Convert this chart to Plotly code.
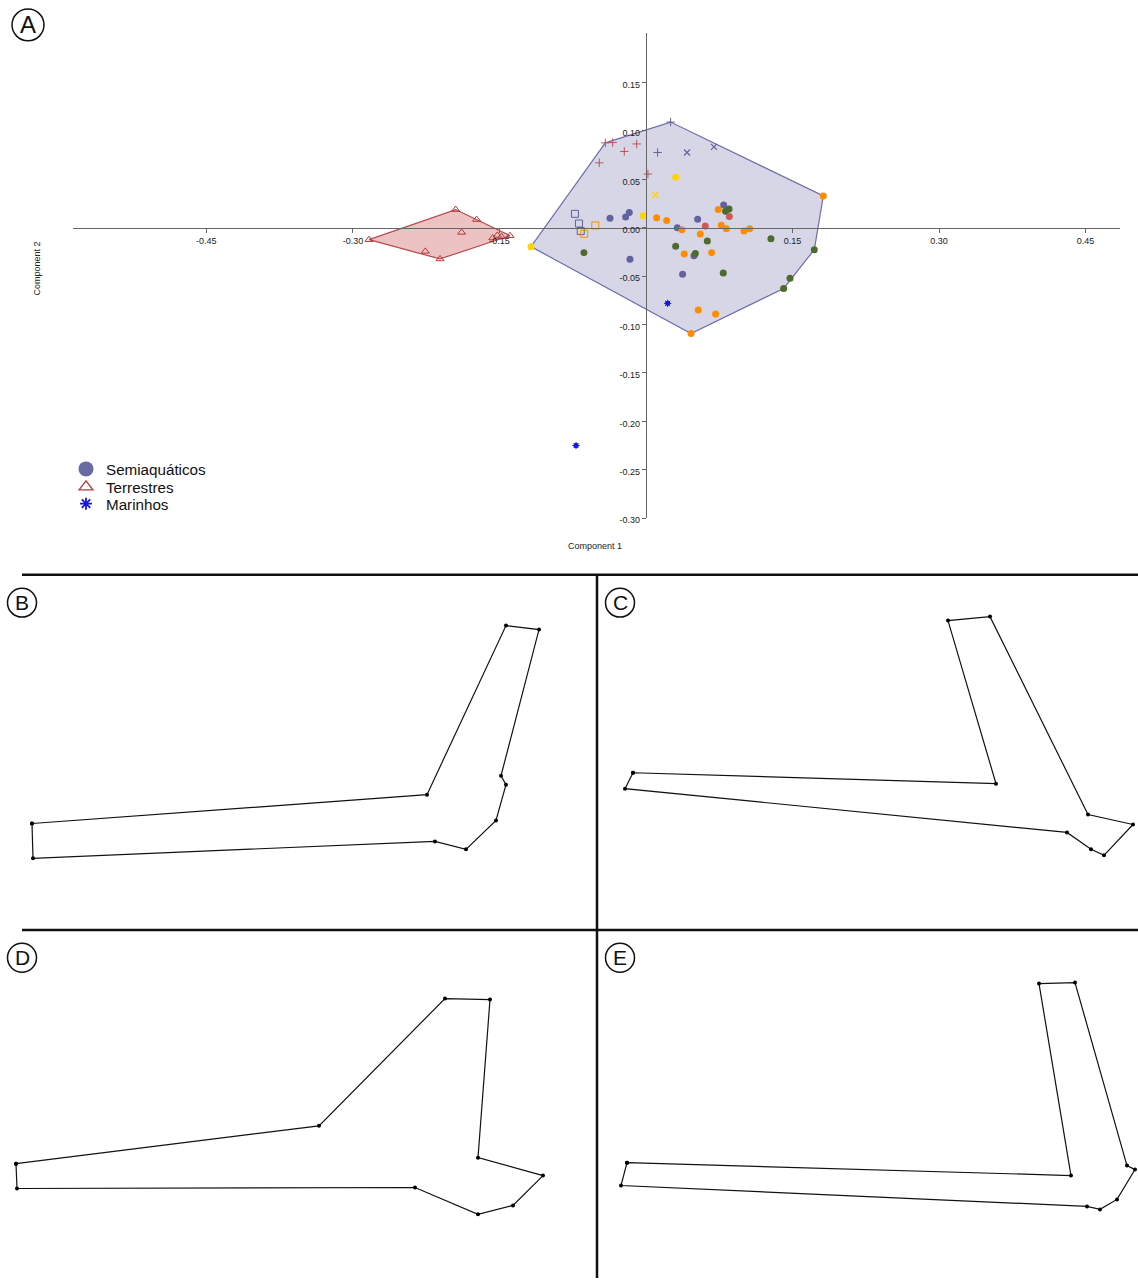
import plotly.graph_objects as go

W, H = 1138, 1285

# ---------------- Panel A: PCA scores (Component 1 vs Component 2) ----------------
semi_purple_x = [-0.0368, -0.0208, -0.0171, 0.0321, 0.0529, 0.0795, 0.0491, -0.0164, 0.0375]
semi_purple_y = [0.0099, 0.0110, 0.0157, 0.0000, 0.0089, 0.0236, -0.0288, -0.0326, -0.0480]

semi_orange_x = [0.0109, 0.0212, 0.0368, 0.0556, 0.0740, 0.0771, 0.0822, 0.1003, 0.1061,
                 0.0392, 0.0672, 0.1815, 0.0535, 0.0713, 0.0461]
semi_orange_y = [0.0103, 0.0075, -0.0021, -0.0065, 0.0188, 0.0027, -0.0010, -0.0034, -0.0010,
                 -0.0270, -0.0257, 0.0329, -0.0850, -0.0891, -0.1093]

semi_green_x = [0.0815, 0.0850, 0.0628, 0.1279, 0.0304, 0.0505, -0.0635, 0.0791, 0.1723, 0.1474, 0.1409]
semi_green_y = [0.0171, 0.0195, -0.0137, -0.0113, -0.0192, -0.0267, -0.0257, -0.0466, -0.0226, -0.0521, -0.0627]

semi_red_x = [0.0607, 0.0853]
semi_red_y = [0.0017, 0.0116]

semi_yellow_x = [0.0304, -0.0027, -0.1177]
semi_yellow_y = [0.0521, 0.0123, -0.0195]

semi_yellow_cross_x = [0.0095]
semi_yellow_cross_y = [0.0339]

semi_red_plus_x = [-0.0416, -0.0341, -0.0095, -0.0222, -0.0478, 0.0020]
semi_red_plus_y = [0.0877, 0.0880, 0.0866, 0.0788, 0.0671, 0.0555]

semi_purple_plus_x = [0.0119, 0.0252]
semi_purple_plus_y = [0.0778, 0.1092]

semi_purple_cross_x = [0.0420, 0.0696]
semi_purple_cross_y = [0.0778, 0.0836]

semi_purple_sq_x = [-0.0727, -0.0686, -0.0668]
semi_purple_sq_y = [0.0144, 0.0044, -0.0034]

semi_orange_sq_x = [-0.0519, -0.0632]
semi_orange_sq_y = [0.0024, -0.0062]

terr_x = [-0.2835, -0.1948, -0.1733, -0.1887, -0.2259, -0.2108, -0.1569, -0.1522, -0.1480, -0.1392]
terr_y = [-0.0123, 0.0188, 0.0085, -0.0048, -0.0244, -0.0322, -0.0106, -0.0079, -0.0092, -0.0082]

mar_x = [0.0222, -0.0716]
mar_y = [-0.0781, -0.2250]

x_ticks = [-0.45, -0.30, -0.15, 0.15, 0.30, 0.45]
y_ticks = [-0.30, -0.25, -0.20, -0.15, -0.10, -0.05, 0.00, 0.05, 0.10, 0.15]

group_names = ["Semiaquáticos", "Terrestres", "Marinhos"]

# ---------------- Panels B-E: landmark outlines (local frame, y up) ----------------
shape_b_x = [32, 427, 506, 539, 501, 506, 496, 466, 435, 33]
shape_b_y = [107, 136, 306, 302, 155, 146, 110, 81, 89, 72]

shape_c_x = [36, 399, 351, 393, 491, 536, 507, 494, 470, 28]
shape_c_y = [158, 147, 311, 315, 116, 106, 75, 81, 98, 142]

shape_d_x = [16, 319, 445, 490, 478, 543, 513, 478, 415, 17]
shape_d_y = [115, 153, 281, 280, 121, 103, 73, 64, 91, 90]

shape_e_x = [30, 474, 442, 478, 530, 538, 520, 503, 490, 24]
shape_e_y = [116, 103, 296, 297, 113, 109, 79, 69, 72, 93]


def convex_hull(xs, ys):
    pts = sorted(set(zip(xs, ys)))
    if len(pts) < 3:
        return pts

    def cross(o, a, b):
        return (a[0] - o[0]) * (b[1] - o[1]) - (a[1] - o[1]) * (b[0] - o[0])

    lower, upper = [], []
    for p in pts:
        while len(lower) >= 2 and cross(lower[-2], lower[-1], p) <= 0:
            lower.pop()
        lower.append(p)
    for p in reversed(pts):
        while len(upper) >= 2 and cross(upper[-2], upper[-1], p) <= 0:
            upper.pop()
        upper.append(p)
    return lower[:-1] + upper[:-1]


def px(x):
    return x / W


def py(y):
    return 1 - y / H


FONT = "Liberation Sans, Arial, sans-serif"
PURPLE = "#62629c"
ORANGE = "#ff8c00"
GREEN = "#4d6b2c"
RED_DOT = "#cc5a5a"
YELLOW = "#ffd400"
RED_PLUS = "#c4505c"
TRI_RED = "#b33a3a"
BLUE = "#1414e6"

fig = go.Figure()

# convex hulls of the semiaquatic and terrestrial groups
semi_all_x = (semi_purple_x + semi_orange_x + semi_green_x + semi_red_x + semi_yellow_x +
              semi_yellow_cross_x + semi_red_plus_x + semi_purple_plus_x + semi_purple_cross_x +
              semi_purple_sq_x + semi_orange_sq_x)
semi_all_y = (semi_purple_y + semi_orange_y + semi_green_y + semi_red_y + semi_yellow_y +
              semi_yellow_cross_y + semi_red_plus_y + semi_purple_plus_y + semi_purple_cross_y +
              semi_purple_sq_y + semi_orange_sq_y)

for hx, hy, line_c, fill_c in [
    (semi_all_x, semi_all_y, "rgb(112,112,172)", "rgba(104,104,164,0.27)"),
    (terr_x, terr_y, "rgb(186,72,76)", "rgba(196,52,52,0.30)"),
]:
    hull = convex_hull(hx, hy)
    fig.add_trace(go.Scatter(
        x=[p[0] for p in hull] + [hull[0][0]],
        y=[p[1] for p in hull] + [hull[0][1]],
        mode="lines", fill="toself", fillcolor=fill_c,
        line=dict(color=line_c, width=1.2), hoverinfo="skip", showlegend=False,
    ))


def pts(xs, ys, symbol, color, size=7, lw=1.0):
    open_sym = symbol.endswith("open") or symbol in ("cross-thin", "x-thin")
    marker = dict(symbol=symbol, size=size, color=color)
    if open_sym:
        marker["line"] = dict(color=color, width=lw)
    else:
        marker["line"] = dict(width=0)
    fig.add_trace(go.Scatter(x=xs, y=ys, mode="markers", marker=marker, showlegend=False))


pts(semi_purple_x, semi_purple_y, "circle", PURPLE)
pts(semi_orange_x, semi_orange_y, "circle", ORANGE)
pts(semi_green_x, semi_green_y, "circle", GREEN)
pts(semi_red_x, semi_red_y, "circle", RED_DOT)
pts(semi_yellow_x, semi_yellow_y, "circle", YELLOW)
pts(semi_yellow_cross_x, semi_yellow_cross_y, "x-thin", YELLOW, size=6, lw=1.3)
pts(semi_red_plus_x, semi_red_plus_y, "cross-thin", RED_PLUS, size=6, lw=1.0)
pts(semi_purple_plus_x, semi_purple_plus_y, "cross-thin", PURPLE, size=6, lw=1.0)
pts(semi_purple_cross_x, semi_purple_cross_y, "x-thin", PURPLE, size=6, lw=1.2)
pts(semi_purple_sq_x, semi_purple_sq_y, "square-open", PURPLE, size=7, lw=1.0)
pts(semi_orange_sq_x, semi_orange_sq_y, "square-open", ORANGE, size=7, lw=1.0)
pts(terr_x, terr_y, "triangle-up-open", TRI_RED, size=7, lw=1.0)
pts(mar_x, mar_y, "circle", BLUE, size=5)
pts(mar_x, mar_y, "asterisk-open", BLUE, size=6, lw=1.0)

# legend: one entry per legend box so rows sit close together
legend_markers = [
    dict(symbol="circle", size=15, color="#6a6aa2"),
    dict(symbol="triangle-up-open", size=12, color=TRI_RED, line=dict(color=TRI_RED, width=1.3)),
    dict(symbol="asterisk-open", size=10, color=BLUE, line=dict(color=BLUE, width=1.8)),
]
legend_tops = [455, 473, 490]
layout_legends = {}
for k, (name, mk, top) in enumerate(zip(group_names, legend_markers, legend_tops)):
    key = "legend" if k == 0 else f"legend{k + 1}"
    fig.add_trace(go.Scatter(x=[None], y=[None], mode="markers", name=name, marker=mk,
                             legend=key))
    layout_legends[key] = dict(x=px(66), y=py(top), xanchor="left", yanchor="top",
                               font=dict(family=FONT, size=15.2, color="#111111"),
                               bgcolor="rgba(0,0,0,0)", itemsizing="trace")

axis_common = dict(showgrid=False, zeroline=False, showline=True, linecolor="#666666",
                   linewidth=1.4, ticks="outside", ticklen=4, tickcolor="#666666",
                   tickwidth=1, tickfont=dict(family=FONT, size=9, color="#222222"),
                   fixedrange=True)

layout = dict(
    width=W, height=H, margin=dict(l=0, r=0, t=0, b=0),
    paper_bgcolor="white", plot_bgcolor="rgba(0,0,0,0)",
    font=dict(family=FONT),
    showlegend=True,
    xaxis=dict(domain=[px(73), px(1120)], range=[-0.5865, 0.4852], anchor="free",
               position=py(229), tickvals=x_ticks, ticktext=[f"{v:.2f}" for v in x_ticks],
               **axis_common),
    yaxis=dict(domain=[py(521), py(33)], range=[-0.30, 0.2014], anchor="free",
               position=px(646), tickvals=y_ticks, ticktext=[f"{v:.2f}" for v in y_ticks],
               ticklabelshift=2, **axis_common),
)
layout.update(layout_legends)

# panel boxes in pixels: (left, right, top, bottom)
panels = [
    ("B", shape_b_x, shape_b_y, (0, 597, 578, 935)),
    ("C", shape_c_x, shape_c_y, (597, 1138, 578, 935)),
    ("D", shape_d_x, shape_d_y, (0, 597, 935, 1285)),
    ("E", shape_e_x, shape_e_y, (597, 1138, 935, 1285)),
]
for i, (name, sx, sy, (l, r, t, b)) in enumerate(panels, start=2):
    layout[f"xaxis{i}"] = dict(domain=[px(l), px(r)], range=[0, r - l], visible=False,
                               anchor=f"y{i}", fixedrange=True)
    layout[f"yaxis{i}"] = dict(domain=[py(b), py(t)], range=[0, b - t], visible=False,
                               anchor=f"x{i}", fixedrange=True)
    fig.add_trace(go.Scatter(
        x=sx + [sx[0]], y=sy + [sy[0]], xaxis=f"x{i}", yaxis=f"y{i}",
        mode="lines+markers", line=dict(color="#111111", width=1.2),
        marker=dict(size=4, color="#000000"), showlegend=False, hoverinfo="skip",
    ))

fig.update_layout(**layout)

# panel dividers
for x0, y0, x1, y1 in [(22, 578, 1138, 578), (22, 935, 1138, 935), (597, 578, 597, 1285)]:
    fig.add_shape(type="line", xref="paper", yref="paper", x0=px(x0), y0=py(y0),
                  x1=px(x1), y1=py(y1), line=dict(color="#111111", width=2.5))

# circled panel letters
for letter, cx, cy, rad, fs in [("A", 28, 25, 16, 24), ("B", 22, 606, 14.5, 21),
                                ("C", 620, 606, 14.5, 21), ("D", 22, 963, 14.5, 21),
                                ("E", 620, 963, 14.5, 21)]:
    fig.add_shape(type="circle", xref="paper", yref="paper",
                  x0=px(cx - rad), x1=px(cx + rad), y0=py(cy + rad), y1=py(cy - rad),
                  line=dict(color="#111111", width=1.5))
    fig.add_annotation(text=letter, xref="paper", yref="paper", x=px(cx), y=py(cy),
                       xanchor="center", yanchor="middle", showarrow=False,
                       font=dict(family=FONT, size=fs, color="#111111"))

fig.add_annotation(text="Component 1", xref="paper", yref="paper", x=px(595), y=py(549),
                   xanchor="center", yanchor="middle", showarrow=False,
                   font=dict(family=FONT, size=9, color="#222222"))
fig.add_annotation(text="Component 2", xref="paper", yref="paper", x=px(37), y=py(270),
                   xanchor="center", yanchor="middle", showarrow=False, textangle=-90,
                   font=dict(family=FONT, size=9, color="#222222"))

fig.write_html("out.html", config={"displayModeBar": False})
